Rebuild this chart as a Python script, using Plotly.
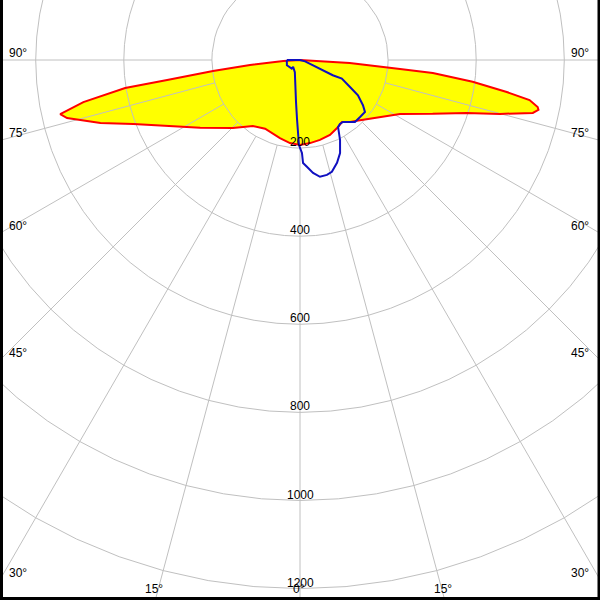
import math
import plotly.graph_objects as go

# ---- data: luminous intensity (cd) vs angle (deg, 0 = nadir, negative = left) ----
red_angle = [-90, -86.6, -84.3, -82.8, -81.4, -80.9, -79.0, -77.3, -76.0, -72.5, -69.0,
             -63.6, -55.8, -44.6, -35.5, -26.9, -22.6, -14.4, -6.9, 0, 6.9, 14.0, 21.8,
             29.6, 34.1, 38.9, 43.1, 54.5, 61.6, 67.9, 72.4, 74.9, 77.2, 78.2, 78.8,
             80.1, 81.2, 82.8, 84.4, 84.9, 85.7, 86.6, 86.5, 90]
red_cd = [0, 38, 114, 199, 305, 402, 501, 558, 545, 475, 405,
          337, 274, 217, 184, 175, 177, 183, 190, 193, 190, 187, 183,
          175, 170, 181, 189, 223, 258, 325, 397, 470, 542, 553, 550,
          529, 475, 395, 303, 228, 152, 113, 75, 0]

blue_angle = [-90, -68, -44, -45, -23, -11, -5.4, -2.9, -1.6, -0.7, 1.2, 1.7, 3.7, 6.6,
              9.7, 13.2, 15.9, 19.8, 23.3, 26.6, 29.6, 32, 34.7, 41.6, 46.5, 51.3,
              54.3, 58.7, 61.6, 66, 65.1, 65.9, 67.8, 75.4, 90]
blue_cd = [30, 32, 27, 22, 30, 58, 96, 134, 163, 193, 211, 234, 243, 258,
           269, 268, 264, 248, 230, 203, 175, 171, 171, 188, 188, 189,
           176, 154, 129, 104, 82, 57, 32, 12, 0]

ring_values = [200, 400, 600, 800, 1000, 1200]
ring_labels = ["200", "400", "600", "800", "1000", "1200"]
ray_angles = [-90, -75, -60, -45, -30, -15, 0, 15, 30, 45, 60, 75, 90]
side_label_angles = [90, 75, 60, 45, 30]
bottom_label_angles = [-15, 0, 15]

# ---- geometry ----
S = 0.4405           # px per cd
XMAX = 300 / S
YMIN = -540 / S
YMAX = 60 / S


def to_xy(angles, values):
    xs = [v * math.sin(math.radians(a)) for a, v in zip(angles, values)]
    ys = [-v * math.cos(math.radians(a)) for a, v in zip(angles, values)]
    return xs, ys


fig = go.Figure()

GRID = "#c0c0c0"
rx, ry = to_xy(red_angle, red_cd)
# yellow fill underneath the grid
fig.add_trace(go.Scatter(x=rx, y=ry, mode="lines", fill="toself", fillcolor="#ffff00",
                         line=dict(width=0, color="rgba(0,0,0,0)"), hoverinfo="skip"))

# grid circles (polygonal, 5 degree steps)
for R in ring_values:
    angs = list(range(0, 361, 5))
    cx, cy = to_xy(angs, [R] * len(angs))
    fig.add_trace(go.Scatter(x=cx, y=cy, mode="lines", line=dict(color=GRID, width=1),
                             hoverinfo="skip"))
# rays
for a in ray_angles:
    lx, ly = to_xy([a, a], [200, 1600])
    fig.add_trace(go.Scatter(x=lx, y=ly, mode="lines", line=dict(color=GRID, width=1),
                             hoverinfo="skip"))

# red outline
fig.add_trace(go.Scatter(x=rx, y=ry, mode="lines", line=dict(color="#ff0000", width=2),
                         hoverinfo="skip"))
# blue curve (closed)
bx, by = to_xy(blue_angle, blue_cd)
bx.append(bx[0]); by.append(by[0])
fig.add_trace(go.Scatter(x=bx, y=by, mode="lines", line=dict(color="#1010c0", width=2),
                         hoverinfo="skip"))

FONT = dict(family="Liberation Sans, Arial, sans-serif", size=12, color="black")
ann = []
for R, t in zip(ring_values, ring_labels):
    ann.append(dict(x=0, y=-R, xref="x", yref="y", text=t, showarrow=False,
                    yshift=6, font=FONT, xanchor="center", yanchor="middle"))
for a in side_label_angles:
    yy = -XMAX / math.tan(math.radians(a)) if a != 90 else 0
    ann.append(dict(x=0, y=yy, xref="paper", yref="y", text=f"{a}°", showarrow=False,
                    xanchor="left", yanchor="middle", xshift=7, yshift=7, font=FONT))
    ann.append(dict(x=1, y=yy, xref="paper", yref="y", text=f"{a}°", showarrow=False,
                    xanchor="right", yanchor="middle", xshift=-9, yshift=7, font=FONT))
for a in bottom_label_angles:
    xx = -YMIN * math.tan(math.radians(a))
    ann.append(dict(x=xx, y=YMIN, xref="x", yref="y", text=f"{abs(a)}°", showarrow=False,
                    xanchor="center", yanchor="middle", xshift=-1.5, yshift=11, font=FONT))

shapes = [
    dict(type="rect", xref="paper", yref="paper", x0=0, x1=3 / 600, y0=0, y1=1,
         fillcolor="black", line=dict(width=0), layer="above"),
    dict(type="rect", xref="paper", yref="paper", x0=1 - 2.5 / 600, x1=1, y0=0, y1=1,
         fillcolor="black", line=dict(width=0), layer="above"),
    dict(type="rect", xref="paper", yref="paper", x0=0, x1=1, y0=0, y1=3 / 600,
         fillcolor="black", line=dict(width=0), layer="above"),
]

fig.update_layout(
    width=600, height=600, margin=dict(l=0, r=0, t=0, b=0),
    paper_bgcolor="white", plot_bgcolor="white", showlegend=False,
    xaxis=dict(range=[-XMAX, XMAX], visible=False, fixedrange=True),
    yaxis=dict(range=[YMIN, YMAX], visible=False, fixedrange=True),
    annotations=ann, shapes=shapes,
)

fig.write_html("out.html", config={"displayModeBar": False},
               post_script="document.body.style.margin='0';document.body.style.overflow='hidden';")
